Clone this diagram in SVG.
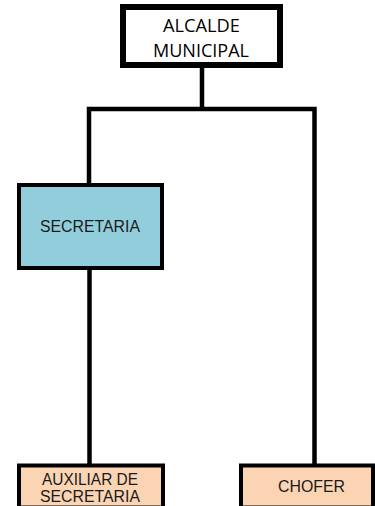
<svg xmlns="http://www.w3.org/2000/svg" width="375" height="506" viewBox="0 0 375 506">
<style>
.line{stroke:#000;stroke-width:4.5;fill:none}
.t{font-family:"Liberation Sans",Arial,sans-serif;font-size:16px;fill:#1a1a1a;text-anchor:middle}
.tc{font-family:"Open Sans","Liberation Sans",sans-serif;font-size:18px;fill:#000;text-anchor:middle}
</style>
<rect width="375" height="506" fill="#fff"/>
<g id="connectors">
<line class="line" x1="202" y1="66" x2="202" y2="109"/>
<polyline class="line" points="89,184 89,109 314.5,109 314.5,465"/>
<line class="line" x1="89.5" y1="268" x2="89.5" y2="465"/>
</g>
<g id="alcalde">
<rect x="123" y="7" width="157" height="58" fill="#fff" stroke="#000" stroke-width="6"/>
<text class="tc" x="201.5" y="32" textLength="77" lengthAdjust="spacingAndGlyphs">ALCALDE</text>
<text class="tc" x="201" y="57" textLength="96" lengthAdjust="spacingAndGlyphs">MUNICIPAL</text>
</g>
<g id="secretaria">
<rect x="19" y="185" width="143" height="83" fill="#92CDDC" stroke="#000" stroke-width="4"/>
<text class="t" x="90" y="232" textLength="100" lengthAdjust="spacingAndGlyphs">SECRETARIA</text>
</g>
<g id="auxiliar">
<rect x="19" y="465.5" width="144" height="42" fill="#FBD4B4" stroke="#000" stroke-width="4"/>
<text class="t" x="90" y="485" textLength="96" lengthAdjust="spacingAndGlyphs">AUXILIAR DE</text>
<text class="t" x="90" y="502" textLength="100" lengthAdjust="spacingAndGlyphs">SECRETARIA</text>
</g>
<g id="chofer">
<rect x="241" y="465.5" width="132" height="42" fill="#FBD4B4" stroke="#000" stroke-width="4"/>
<text class="t" x="311.5" y="492" textLength="67" lengthAdjust="spacingAndGlyphs">CHOFER</text>
</g>
</svg>
